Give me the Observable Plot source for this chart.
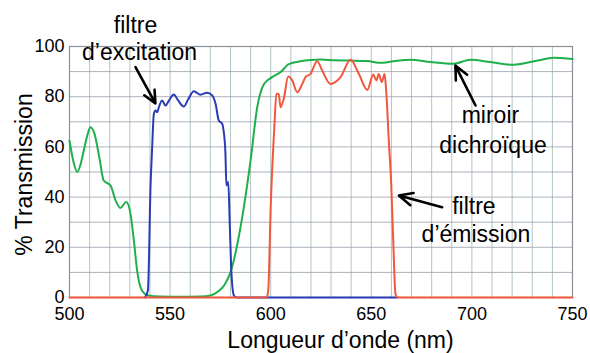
<!DOCTYPE html>
<html>
<head>
<meta charset="utf-8">
<script src="https://cdn.jsdelivr.net/npm/d3@7"></script>
<script src="https://cdn.jsdelivr.net/npm/@observablehq/plot@0.6"></script>
<style>
  html, body { margin: 0; padding: 0; background: #fff; }
  svg { display: block; }
</style>
</head>
<body>
<div id="chart"></div>
<script>
// ---- Data ----
const xTicks = [500, 550, 600, 650, 700, 750];
const yTicks = [0, 20, 40, 60, 80, 100];
const xGrid = [510, 520, 530, 540, 550, 560, 570, 580, 590, 600, 610, 620, 630, 640, 650, 660, 670, 680, 690, 700, 710, 720, 730, 740];
const yGrid = [10, 20, 30, 40, 50, 60, 70, 80, 90];

// Miroir dichroïque (green)
const mirrorNm = [500, 502, 503.8, 505.5, 507.1, 509, 510.4, 512.5, 515, 517, 520.4, 523, 525.3, 528.2, 530.3, 532, 533.6, 536, 539.3, 545, 555, 565, 570, 574, 577, 580, 585, 590, 593.3, 596.6, 600.7, 604.9, 609, 614.8, 620, 624.8, 632, 639.7, 648, 654.6, 661, 669.5, 679.4, 690.8, 699.3, 709.2, 720.7, 732.6, 740.6, 750];
const mirrorT = [62.5, 54, 50, 53, 58.6, 65, 67.8, 65, 55, 46.6, 44.6, 38.5, 35.7, 38, 33.4, 22.7, 10.8, 2.8, 0.8, 0.4, 0.3, 0.4, 0.8, 2.5, 5, 10, 28, 54.6, 75.8, 85, 87.8, 89.8, 93, 94.1, 94.6, 94.8, 94.5, 94.4, 94.2, 93.5, 94.1, 94.7, 93.8, 93.1, 94.7, 93.8, 92.7, 94.4, 95.5, 95];

// Filtre d'excitation (blue)
const excNm = [537.5, 539, 540.3, 541.1, 541.9, 542.7, 543.6, 544.4, 546, 547.7, 549.5, 551.8, 554, 556.8, 559, 561.8, 565.1, 568.4, 570.9, 572.6, 574.2, 575.9, 576.5, 577.5, 578, 578.9, 579.7, 580.5, 581.7, 583, 663];
const excT = [0, 3, 45, 60, 73, 74.5, 73.8, 75.8, 78.5, 76.5, 78.5, 80.9, 78.5, 76.1, 79, 82.2, 80.8, 81.6, 80.5, 77.2, 70.5, 69.2, 67, 57.4, 44.6, 46, 28, 9.5, 0.8, 0, 0];

// Filtre d'émission (red)
const emNm = [500, 598, 598.8, 600, 601.9, 602.8, 604, 604.9, 606.5, 608.7, 610.7, 613.2, 615.7, 617.3, 619.8, 623.1, 625.6, 629.7, 634.7, 639.7, 643.8, 648, 651, 652.5, 653.7, 655.2, 656.6, 657.5, 658.7, 659.9, 660.9, 662, 663, 750];
const emT = [0, 0, 3, 36, 69.2, 81.2, 81, 75.8, 79.2, 88, 86.5, 81.8, 85.1, 87.8, 89.1, 94.1, 90.4, 85.1, 87.8, 94.7, 89.1, 82.7, 88.8, 86.5, 89, 85.8, 89, 81, 62.5, 45.3, 22.7, 1.5, 0, 0];

// Annotations (text and arrows, in data units)
const labelText = ["filtre", "d’excitation", "miroir", "dichroïque", "filtre", "d’émission"];
const labelNm = [532.8, 534.8, 709.2, 710.5, 701, 702];
const labelT = [108.5, 97.4, 72.3, 60.7, 36.3, 25];
const arrowFromNm = [532.8, 701.8, 685.2];
const arrowFromT = [91.8, 76.5, 36];
const arrowToNm = [542.7, 691.8, 663.7];
const arrowToT = [77.3, 92.4, 40.6];

// ---- Build tables ----
const mirror = mirrorNm.map((x, i) => ({x, y: mirrorT[i]}));
const exc = excNm.map((x, i) => ({x, y: excT[i]}));
const em = emNm.map((x, i) => ({x, y: emT[i]}));
const labels = labelText.map((t, i) => ({t, x: labelNm[i], y: labelT[i]}));
const arrows = arrowFromNm.map((x1, i) => ({x1, y1: arrowFromT[i], x2: arrowToNm[i], y2: arrowToT[i]}));

const FONT = "'Liberation Sans', Arial, Helvetica, sans-serif";

const chart = Plot.plot({
  width: 590,
  height: 353,
  marginLeft: 69,
  marginRight: 18,
  marginTop: 46,
  marginBottom: 56,
  style: {fontFamily: FONT, fontSize: "18px", background: "#fff", color: "#000", overflow: "visible"},
  x: {domain: [500, 750]},
  y: {domain: [0, 100]},
  marks: [
    Plot.ruleX(xGrid, {stroke: "#9fb7b5", strokeWidth: 1, strokeOpacity: 0.8}),
    Plot.ruleY(yGrid, {stroke: "#9a9fab", strokeWidth: 1, strokeOpacity: 0.8}),
    Plot.frame({stroke: "#8d9098", strokeWidth: 1.2}),
    Plot.axisX({ticks: xTicks, tickSize: 0, tickPadding: 10, fontSize: 18, label: null}),
    Plot.axisY({ticks: yTicks, tickSize: 0, tickPadding: 5, fontSize: 18, label: null}),
    Plot.line(mirror, {x: "x", y: "y", stroke: "#1fb04c", strokeWidth: 2, curve: "monotone-x"}),
    Plot.line(exc, {x: "x", y: "y", stroke: "#2a3cb4", strokeWidth: 2, curve: "monotone-x"}),
    Plot.line(em, {x: "x", y: "y", stroke: "#f2573d", strokeWidth: 2, curve: "monotone-x"}),
    Plot.arrow(arrows, {x1: "x1", y1: "y1", x2: "x2", y2: "y2", stroke: "#000", strokeWidth: 2.6, headLength: 11, headAngle: 50}),
    Plot.text(labels, {x: "x", y: "y", text: "t", fontSize: 23, fill: "#000", textAnchor: "middle"}),
    Plot.text(["Longueur d’onde (nm)"], {frameAnchor: "bottom", textAnchor: "middle", lineAnchor: "middle", dx: 19.5, dy: 43.6, fontSize: 23, fill: "#000"}),
    Plot.text(["% Transmission"], {frameAnchor: "left", textAnchor: "middle", lineAnchor: "middle", dx: -44.4, dy: 2.5, rotate: -90, fontSize: 23, fill: "#000"})
  ]
});
document.getElementById("chart").appendChild(chart);
</script>
</body>
</html>
